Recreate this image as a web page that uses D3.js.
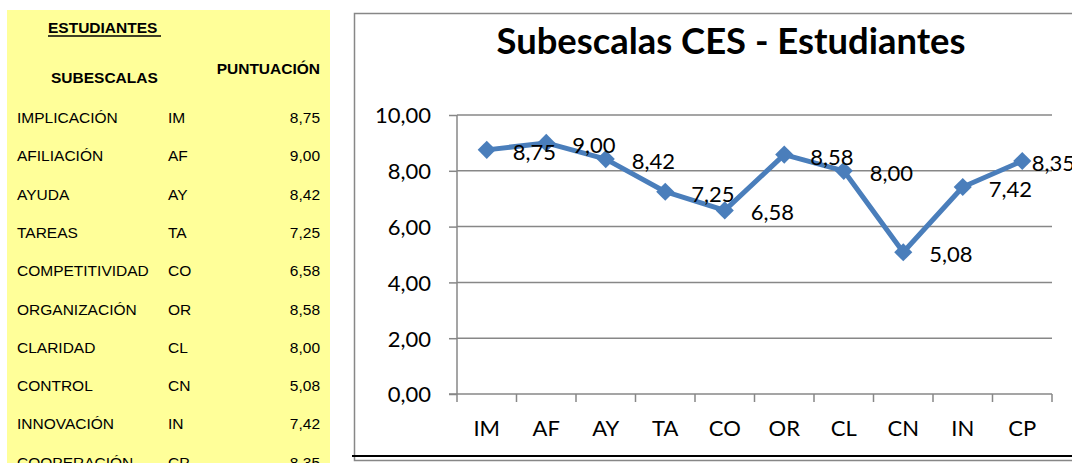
<!DOCTYPE html>
<html>
<head>
<meta charset="utf-8">
<script src="https://cdn.jsdelivr.net/npm/d3@7"></script>
<style>
  body { margin: 0; background: #fff; }
  svg { display: block; }
  .tbl text { font-family: "Liberation Sans", Arial, sans-serif; font-size: 15.5px; fill: #000; }
  .tbl .hd { font-weight: bold; }
  .chart text { font-family: Lato, "Open Sans", sans-serif; fill: #000; }
</style>
</head>
<body>
<svg id="fig" width="1072" height="463"></svg>
<script>
// datos de la tabla / grafico
var subescalas = ["IMPLICACIÓN", "AFILIACIÓN", "AYUDA", "TAREAS", "COMPETITIVIDAD",
                  "ORGANIZACIÓN", "CLARIDAD", "CONTROL", "INNOVACIÓN", "COOPERACIÓN"];
var codigos = ["IM", "AF", "AY", "TA", "CO", "OR", "CL", "CN", "IN", "CP"];
var puntuacion = [8.75, 9.00, 8.42, 7.25, 6.58, 8.58, 8.00, 5.08, 7.42, 8.35];
var yTicks = [0, 2, 4, 6, 8, 10];

var es = d3.formatLocale({decimal: ",", thousands: ".", grouping: [3], currency: ["", " €"]});
var fmt = es.format(".2f");

var svg = d3.select("#fig");

// ---- tabla amarilla a la izquierda ----
var tbl = svg.append("g").attr("class", "tbl");
tbl.append("rect")
    .attr("x", 7).attr("y", 10)
    .attr("width", 323).attr("height", 460)
    .attr("fill", "#ffff99");

tbl.append("text").attr("class", "hd").attr("x", 48).attr("y", 33).text("ESTUDIANTES");
tbl.append("line")
    .attr("x1", 48).attr("x2", 161).attr("y1", 36).attr("y2", 36)
    .attr("stroke", "#000").attr("stroke-width", 1.5);
tbl.append("text").attr("class", "hd").attr("x", 51).attr("y", 83).text("SUBESCALAS");
tbl.append("text").attr("class", "hd").attr("x", 320).attr("y", 74)
    .attr("text-anchor", "end").text("PUNTUACIÓN");

var rowY = d3.scaleLinear().domain([0, 1]).range([123, 161.3]);

var rows = tbl.selectAll(".row")
    .data(subescalas)
  .enter().append("g")
    .attr("class", "row")
    .attr("transform", function(d, i) { return "translate(0," + rowY(i) + ")"; });
rows.append("text").attr("x", 17).text(function(d) { return d; });
rows.append("text").attr("x", 168).text(function(d, i) { return codigos[i]; });
rows.append("text").attr("x", 320).attr("text-anchor", "end")
    .text(function(d, i) { return fmt(puntuacion[i]); });

// ---- grafico ----
var chart = svg.append("g").attr("class", "chart");

// marco
chart.append("rect")
    .attr("x", 354.5).attr("y", 13.5)
    .attr("width", 740).attr("height", 447)
    .attr("fill", "#fff")
    .attr("stroke", "#878787").attr("stroke-width", 1.5);

chart.append("line")
    .attr("x1", 352).attr("x2", 1072).attr("y1", 456).attr("y2", 456)
    .attr("stroke", "#000").attr("stroke-width", 2.2);

var title = chart.append("text")
    .attr("x", 731).attr("y", 54)
    .attr("text-anchor", "middle")
    .style("font-size", "32px").style("font-weight", "bold")
    .text("Subescalas CES - Estudiantes");
// ajustar el tamaño al ancho del titulo original (~469 px)
var tw = title.node().getComputedTextLength();
title.style("font-size", (32 * 469 / tw).toFixed(1) + "px");

var plot = {left: 457, right: 1052, top: 115, bottom: 394};

var x = d3.scaleBand().domain(codigos).range([plot.left, plot.right]);
var y = d3.scaleLinear().domain([0, 10]).range([plot.bottom, plot.top]);

// lineas de cuadricula
chart.append("g")
    .selectAll("line")
    .data(yTicks.slice(1))
  .enter().append("line")
    .attr("x1", plot.left).attr("x2", plot.right)
    .attr("y1", function(d) { return y(d); }).attr("y2", function(d) { return y(d); })
    .attr("stroke", "#878787").attr("stroke-width", 1.5);

// eje Y
var yAxis = chart.append("g")
    .attr("transform", "translate(" + plot.left + ",0)")
    .call(d3.axisLeft(y).tickValues(yTicks).tickSize(8).tickPadding(18).tickFormat(fmt));
yAxis.selectAll("path, line").attr("stroke", "#878787").attr("stroke-width", 1.5);
yAxis.select(".domain").attr("d", "M0," + y(0) + "V" + y(10));
yAxis.selectAll("text")
    .style("font-family", "Lato, 'Open Sans', sans-serif")
    .style("font-size", "22px")
    .attr("dy", "0.36em");

// eje X
var xAxis = chart.append("g")
    .attr("transform", "translate(0," + plot.bottom + ")")
    .call(d3.axisBottom(x).tickSize(0).tickPadding(26));
xAxis.select(".domain").attr("stroke", "#878787").attr("stroke-width", 1.5)
    .attr("d", "M" + (plot.left - 8) + ",0H" + plot.right);
xAxis.selectAll("text")
    .style("font-family", "Lato, 'Open Sans', sans-serif")
    .style("font-size", "22px");
// marcas entre categorias
xAxis.selectAll(".sep")
    .data(d3.range(codigos.length + 1))
  .enter().append("line")
    .attr("class", "sep")
    .attr("x1", function(i) { return plot.left + i * x.step(); })
    .attr("x2", function(i) { return plot.left + i * x.step(); })
    .attr("y1", 0).attr("y2", 8)
    .attr("stroke", "#878787").attr("stroke-width", 1.5);

var cx = function(d, i) { return x(codigos[i]) + x.bandwidth() / 2; };

var line = d3.line()
    .x(cx)
    .y(function(d) { return y(d); });

var azul = "#4a7ebb";

chart.append("path")
    .datum(puntuacion)
    .attr("fill", "none")
    .attr("stroke", azul)
    .attr("stroke-width", 5)
    .attr("stroke-linejoin", "round")
    .attr("d", line);

chart.selectAll(".dot")
    .data(puntuacion)
  .enter().append("path")
    .attr("class", "dot")
    .attr("d", d3.symbol(d3.symbolSquare, 165))
    .attr("fill", azul)
    .attr("transform", function(d, i) {
      return "translate(" + cx(d, i) + "," + y(d) + ") rotate(45)";
    });

// etiquetas de datos a la derecha (se recortan al borde del area del grafico)
var chartEdge = 1075;
chart.selectAll(".lbl")
    .data(puntuacion)
  .enter().append("text")
    .attr("class", "lbl")
    .style("font-size", "22px")
    .attr("y", function(d) { return y(d) + 10; })
    .text(function(d) { return fmt(d); })
    .attr("x", function(d, i) {
      var w = this.getComputedTextLength();
      return Math.min(cx(d, i) + 26, chartEdge - w);
    });
</script>
</body>
</html>
